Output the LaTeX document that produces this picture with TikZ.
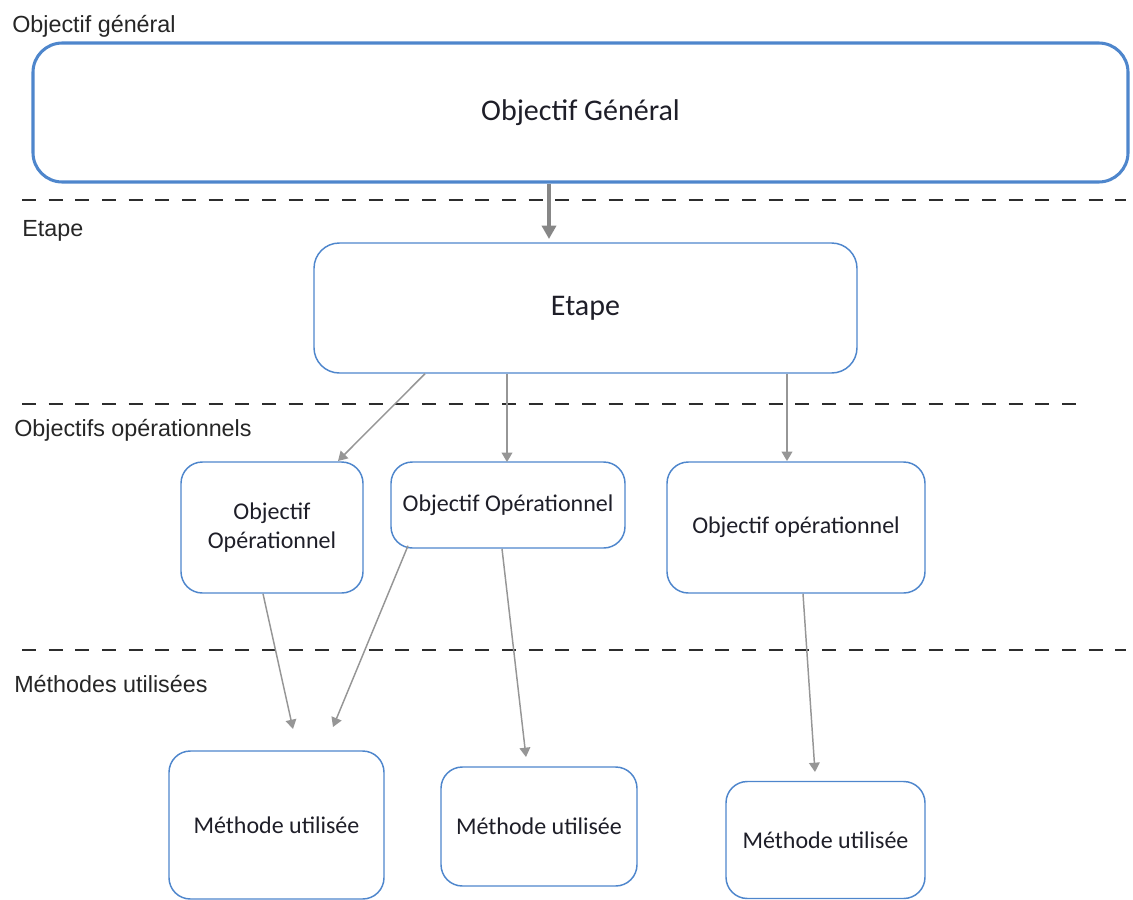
\documentclass[tikz,border=0pt]{standalone}
\usepackage{fontspec}
\setmainfont{Carlito}
\newfontfamily\labfont{Liberation Sans}
\usetikzlibrary{calc,arrows.meta}
\definecolor{boxblue}{RGB}{78,134,204}
\definecolor{arrgray}{RGB}{150,150,150}
\definecolor{dashgray}{RGB}{45,45,45}
\definecolor{txt}{RGB}{30,30,40}
\tikzset{
  bigbox/.style={draw=boxblue, line width=2.3pt, rounded corners=22pt, inner sep=0pt, align=center, text=txt, font=\fontsize{22.5}{27}\selectfont},
  stagebox/.style={draw=boxblue, line width=1.1pt, rounded corners=19pt, inner sep=0pt, align=center, text=txt, font=\fontsize{22.5}{27}\selectfont},
  smallbox/.style={draw=boxblue, line width=1.1pt, rounded corners=16pt, inner sep=0pt, align=center, text=txt, font=\fontsize{18}{22}\selectfont},
  lvllabel/.style={anchor=base west, inner sep=0pt, text=black!85, font=\labfont\fontsize{17.5}{20}\selectfont},
  sepline/.style={dashgray, line width=1.9pt, dash pattern=on 10.5pt off 9.5pt},
  thinarrow/.style={arrgray, line width=1.1pt, -{Triangle[length=7pt,width=8pt]}},
  thickarrow/.style={draw=arrgray!90!black, line width=3pt, -{Triangle[length=10pt,width=10.5pt]}}
}
\begin{document}
\begin{tikzpicture}[x=0.75pt,y=-0.75pt]
\useasboundingbox (0,0) rectangle (1133,900);
% level labels
\node[lvllabel] (l1) at (12,32) {Objectif général};
\node[lvllabel] (l2) at (22,236) {Etape};
\node[lvllabel] (l3) at (14,436) {Objectifs opérationnels};
\node[lvllabel] (l4) at (14,692) {Méthodes utilisées};
% dashed separators
\coordinate (s1a) at (22,200); \coordinate (s1b) at (1126,200);
\coordinate (s2a) at (22,404); \coordinate (s2b) at (1082,404);
\coordinate (s3a) at (22,650); \coordinate (s3b) at (1126,650);
\draw[sepline] (s1a) -- (s1b);
\draw[sepline] (s2a) -- (s2b);
\draw[sepline] (s3a) -- (s3b);
% boxes
\node[bigbox, minimum width=821.25pt, minimum height=104.25pt] (gen) at (580.5,112.5) {Objectif Général};
\node[stagebox, minimum width=407.25pt, minimum height=97.5pt] (etape) at (585.5,308) {Etape};
\node[smallbox, minimum width=136.5pt, minimum height=98.25pt] (oo1) at (272,527.5) {Objectif\\Opérationnel};
\node[smallbox, minimum width=175.5pt, minimum height=64.5pt] (oo2) at (508,505) {Objectif Opérationnel};
\node[smallbox, minimum width=193.5pt, minimum height=98.25pt] (oo3) at (796,527.5) {Objectif opérationnel};
\node[smallbox, minimum width=161.25pt, minimum height=111pt] (m1) at (276.5,825) {Méthode utilisée};
\node[smallbox, minimum width=147pt, minimum height=89.25pt] (m2) at (539,826.5) {Méthode utilisée};
\node[smallbox, minimum width=149.25pt, minimum height=87.75pt] (m3) at (825.5,840) {Méthode utilisée};
% arrow end points
\coordinate (e0) at (549,239);
\coordinate (e1) at (338,461);
\coordinate (e2) at (507,462);
\coordinate (e3) at (787,461);
\coordinate (e4) at (293,729);
\coordinate (e5) at (333,727);
\coordinate (e6) at (526,757);
\coordinate (e7) at (815,772);
% arrows
\draw[thickarrow] ($(gen.south)+(-31.5,0)$) -- (e0);
\draw[thinarrow] ($(etape.south)+(-160.5,0)$) -- (e1);
\draw[thinarrow] ($(etape.south)+(-78.5,0)$) -- (e2);
\draw[thinarrow] ($(etape.south)+(201.5,0)$) -- (e3);
\draw[thinarrow] ($(oo1.south)+(-9,0)$) -- (e4);
\draw[thinarrow] ($(oo2.south)+(-100,-3)$) -- (e5);
\draw[thinarrow] ($(oo2.south)+(-6,0)$) -- (e6);
\draw[thinarrow] ($(oo3.south)+(7,0)$) -- (e7);
\end{tikzpicture}
\end{document}
